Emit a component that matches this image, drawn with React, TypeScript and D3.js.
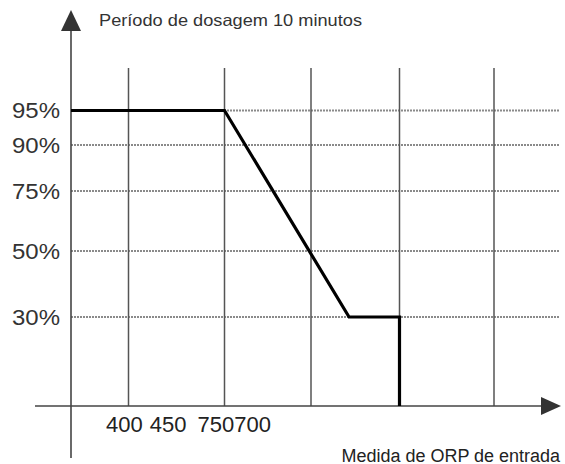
import React from "react";
import * as d3 from "d3";

// ---- data ----
const yTicks = [95, 90, 75, 50, 30];
const yTickLabels = ["95%", "90%", "75%", "50%", "30%"];
const xTickLabels = ["400", "450", "750", "700"];
const gridColumns = [1, 2, 3, 4, 5];
const curveX = [0, 2, 3.43, 4, 4];
const curveY = [95, 95, 30, 30, 0];
const titleText = "Período de dosagem 10 minutos";
const xAxisTitle = "Medida de ORP de entrada";

const W = 565;
const H = 464;
const FONT = '"Liberation Sans", Arial, Helvetica, sans-serif';

export default function App() {
  // piecewise (non-uniform) scales, as the drawing's grid is not evenly spaced
  const y = d3
    .scaleLinear()
    .domain([0, 30, 50, 75, 90, 95])
    .range([406, 317, 251, 191, 145, 110.5]);
  const x = d3
    .scaleLinear()
    .domain([0, 1, 2, 3, 4, 5])
    .range([71, 128.5, 224.5, 311, 399.5, 494]);

  const line = d3
    .line<number>()
    .x((_, i) => x(curveX[i]))
    .y((d) => y(d));

  const x0 = x(0);
  const yBase = y(0);
  const tickDx = [0, 7, 11, 0];

  return (
    <svg
      width={W}
      height={H}
      viewBox={`0 0 ${W} ${H}`}
      style={{ position: "absolute", left: 0, top: 0, background: "#fff" }}
      fontFamily={FONT}
    >
      {/* dotted horizontal guides */}
      {yTicks.map((t) => (
        <line
          key={"h" + t}
          x1={x0}
          x2={560}
          y1={y(t)}
          y2={y(t)}
          stroke="#8a8a8a"
          strokeWidth={1.8}
          strokeDasharray="2,1"
        />
      ))}
      {/* vertical grid lines */}
      {gridColumns.map((c) => (
        <line
          key={"v" + c}
          x1={x(c)}
          x2={x(c)}
          y1={68}
          y2={yBase}
          stroke="#555"
          strokeWidth={1.5}
        />
      ))}
      {/* axes */}
      <line x1={x0} x2={x0} y1={30} y2={458} stroke="#444" strokeWidth={1.6} />
      <line x1={35} x2={542} y1={yBase} y2={yBase} stroke="#444" strokeWidth={1.6} />
      <polygon
        points={`${x0},10 ${x0 - 10},31 ${x0 + 10},31`}
        fill="#333"
      />
      <polygon
        points={`561,${yBase} 541,${yBase - 9} 541,${yBase + 9}`}
        fill="#333"
      />
      {/* dosing curve */}
      <path
        d={line(curveY) || ""}
        fill="none"
        stroke="#000"
        strokeWidth={3.2}
        strokeLinejoin="miter"
      />
      {/* y tick labels */}
      {yTicks.map((t, i) => (
        <text
          key={"yl" + t}
          x={60}
          y={y(t) + 7.5}
          textAnchor="end"
          fontSize={22}
          fill="#333"
          textLength={48}
          lengthAdjust="spacingAndGlyphs"
        >
          {yTickLabels[i]}
        </text>
      ))}
      {/* x tick labels */}
      <text x={106} y={432} fontSize={22} fill="#222">
        {xTickLabels.map((l, i) => (
          <tspan key={l + i} dx={tickDx[i]}>
            {l}
          </tspan>
        ))}
      </text>
      {/* titles */}
      <text
        x={99}
        y={25.5}
        fontSize={16.5}
        fill="#333"
        textLength={263}
        lengthAdjust="spacingAndGlyphs"
      >
        {titleText}
      </text>
      <text
        x={341.5}
        y={461.5}
        fontSize={18}
        fill="#222"
        textLength={218.5}
        lengthAdjust="spacingAndGlyphs"
      >
        {xAxisTitle}
      </text>
    </svg>
  );
}
